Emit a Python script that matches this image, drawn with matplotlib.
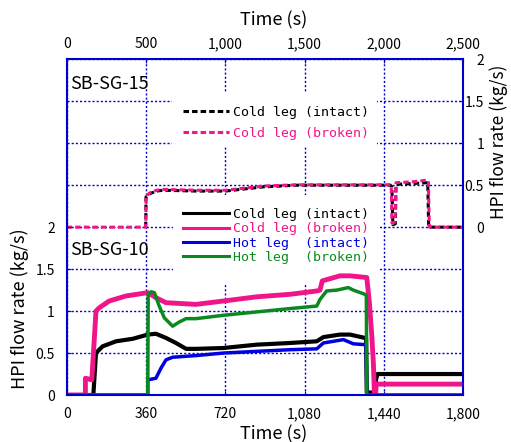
import matplotlib
matplotlib.use('Agg')
import matplotlib.pyplot as plt
from matplotlib.patches import Rectangle
from matplotlib.ticker import FuncFormatter

plt.rcParams['font.family'] = ['Noto Sans CJK JP', 'DejaVu Sans']

# SB-SG-15 (upper panel: top time axis 0-2500 s, right flow axis)
t15_ci = [498, 500, 525, 567, 609, 820, 1000, 1240, 1450, 2040, 2050, 2056, 2072, 2076, 2180, 2276, 2282, 2500]
q15_ci = [0, 0.36, 0.40, 0.43, 0.44, 0.43, 0.43, 0.48, 0.50, 0.50, 0.48, 0.03, 0.04, 0.51, 0.52, 0.53, 0, 0]
t15_cb = [0, 498, 500, 525, 567, 609, 820, 1000, 1240, 1450, 2040, 2046, 2050, 2070, 2076, 2180, 2270, 2280, 2286, 2500]
q15_cb = [0, 0, 0.37, 0.41, 0.44, 0.45, 0.44, 0.44, 0.49, 0.505, 0.505, 0.49, 0.05, 0.06, 0.53, 0.54, 0.56, 0.55, 0, 0]

# SB-SG-10 (lower panel: bottom time axis 0-1800 s, left flow axis)
t10_ci = [0, 121, 133, 140, 163, 224, 300, 368, 405, 451, 496, 542, 587, 711, 862, 1014, 1135, 1165,
          1240, 1286, 1354, 1359, 1362, 1398, 1404, 1410, 1800]
q10_ci = [0, 0, 0.50, 0.52, 0.58, 0.64, 0.67, 0.72, 0.73, 0.68, 0.62, 0.55, 0.55, 0.56, 0.60, 0.62, 0.64, 0.69,
          0.72, 0.72, 0.68, 0.68, 0.03, 0.03, 0.18, 0.25, 0.25]
t10_cb = [0, 85, 85, 114, 133, 148, 193, 269, 368, 405, 451, 587, 711, 862, 1014, 1135, 1150, 1160,
          1240, 1286, 1362, 1374, 1385, 1392, 1397, 1402, 1405, 1800]
q10_cb = [0, 0, 0.20, 0.18, 1.00, 1.04, 1.12, 1.18, 1.22, 1.16, 1.10, 1.08, 1.12, 1.17, 1.20, 1.24, 1.25, 1.36,
          1.42, 1.42, 1.40, 1.10, 0.70, 0.38, 0.0, 0.0, 0.13, 0.13]
t10_hi = [0, 368, 368, 405, 428, 451, 481, 587, 711, 862, 1014, 1135, 1165, 1256, 1301, 1354, 1359, 1362, 1800]
q10_hi = [0, 0, 0.18, 0.20, 0.32, 0.42, 0.45, 0.47, 0.50, 0.52, 0.54, 0.55, 0.62, 0.66, 0.61, 0.60, 0.60, 0, 0]
t10_hb = [0, 368, 370, 383, 398, 420, 443, 481, 511, 542, 587, 711, 862, 1014, 1135, 1150, 1180, 1226,
          1278, 1301, 1354, 1360, 1362, 1800]
q10_hb = [0, 0, 1.20, 1.23, 1.22, 1.06, 0.92, 0.82, 0.87, 0.91, 0.91, 0.95, 0.99, 1.03, 1.06, 1.14, 1.24, 1.25,
          1.28, 1.25, 1.20, 1.19, 0, 0]

top_ticks = [0, 500, 1000, 1500, 2000, 2500]
bot_ticks = [0, 360, 720, 1080, 1440, 1800]
flow_ticks = [0, 0.5, 1, 1.5, 2]
flow_labels = ['0', '0.5', '1', '1.5', '2']

BLUE = '#0000CC'
PINK = '#F0168A'
GREEN = '#0A8A1E'
LBLUE = '#0000E0'
mono = {'family': 'DejaVu Sans Mono', 'size': 9.5}
comma = FuncFormatter(lambda v, p: f'{int(v):,}')

fig = plt.figure(figsize=(5.11, 4.42), dpi=100)
pos = [0.1305, 0.1063, 0.7761, 0.7595]
ax2 = fig.add_axes(pos)
ax = fig.add_axes(pos)
ax2.set_zorder(1)
ax.set_zorder(2)
ax.patch.set_visible(False)

# upper panel axes (top / right)
ax2.set_xlim(0, 2500)
ax2.set_ylim(-2, 2)
ax2.xaxis.tick_top()
ax2.yaxis.tick_right()
ax2.set_xticks(top_ticks)
ax2.xaxis.set_major_formatter(comma)
ax2.set_yticks(flow_ticks)
ax2.set_yticklabels(flow_labels)
for lbl in ax2.get_yticklabels():
    lbl.set_horizontalalignment('right')
ax2.tick_params(axis='x', direction='in', length=3, color=BLUE, pad=6, labelsize=10)
ax2.tick_params(axis='y', direction='in', length=3, color=BLUE, pad=15, labelsize=10)
ax2.set_axisbelow(True)
ax2.grid(True, color=BLUE, lw=1, ls=(0, (1.5, 1.5)))
for s in ax2.spines.values():
    s.set_visible(False)

ax2.add_patch(Rectangle((0.266, 0.739), 0.517, 0.161, transform=ax2.transAxes,
                        facecolor='white', edgecolor='none', zorder=1))
ax2.plot(t15_ci, q15_ci, color='black', lw=2.2, dashes=(1.8, 1), label='Cold leg (intact)', zorder=2)
ax2.plot(t15_cb, q15_cb, color=PINK, lw=2.2, dashes=(1.8, 1), dash_capstyle='butt',
         label='Cold leg (broken)', zorder=2)
ax2.legend(loc='upper left', bbox_to_anchor=(0.294, 0.862), frameon=False, prop=mono,
           handlelength=3.5, handletextpad=0.25, labelspacing=0.6, borderpad=0, borderaxespad=0,
           labelcolor='linecolor')
ax2.text(0.008, 0.926, 'SB-SG-15', transform=ax2.transAxes, fontsize=13, va='center')

# lower panel axes (bottom / left)
ax.set_xlim(0, 1800)
ax.set_ylim(0, 4)
ax.set_xticks(bot_ticks)
ax.xaxis.set_major_formatter(comma)
ax.set_yticks(flow_ticks)
ax.set_yticklabels(flow_labels)
ax.tick_params(axis='x', direction='in', length=3, color=BLUE, pad=8.5, labelsize=10)
ax.tick_params(axis='y', direction='in', length=3, color=BLUE, pad=8.5, labelsize=10)
ax.set_axisbelow(True)
ax.grid(True, axis='y', color=BLUE, lw=1, ls=(0, (1.5, 1.5)))
ax.yaxis.get_gridlines()[-1].set_visible(False)
for s in ax.spines.values():
    s.set_color(BLUE)
    s.set_linewidth(1.5)

ax.add_patch(Rectangle((0.269, 0.334), 0.519, 0.261, transform=ax.transAxes,
                       facecolor='white', edgecolor='none', zorder=1))
ax.plot(t10_ci, q10_ci, color='black', lw=3, label='Cold leg (intact)', zorder=2)
ax.plot(t10_cb, q10_cb, color=PINK, lw=3.5, label='Cold leg (broken)', zorder=2)
ax.plot(t10_hi, q10_hi, color=LBLUE, lw=2.5, label='Hot leg  (intact)', zorder=2)
ax.plot(t10_hb, q10_hb, color=GREEN, lw=2.5, label='Hot leg  (broken)', zorder=2)
leg = ax.legend(loc='upper left', bbox_to_anchor=(0.294, 0.557), frameon=False, prop=mono,
                handlelength=3.5, handletextpad=0.25, labelspacing=0.1, borderpad=0, borderaxespad=0,
                labelcolor='linecolor')
for h in leg.get_lines():
    h.set_linewidth(2.2)
ax.text(0.008, 0.432, 'SB-SG-10', transform=ax.transAxes, fontsize=13, va='center')

# axis titles
fig.text(274 / 511, 1 - 434 / 442, 'Time (s)', ha='center', va='center', fontsize=13)
fig.text(274 / 511, 1 - 20 / 442, 'Time (s)', ha='center', va='center', fontsize=13)
fig.text(20 / 511, 1 - 309 / 442, 'HPI flow rate (kg/s)', ha='center', va='center', rotation=90, fontsize=13)
fig.text(499 / 511, 1 - 142 / 442, 'HPI flow rate (kg/s)', ha='center', va='center', rotation=90, fontsize=12.5)

fig.savefig('out.png', dpi=100)
